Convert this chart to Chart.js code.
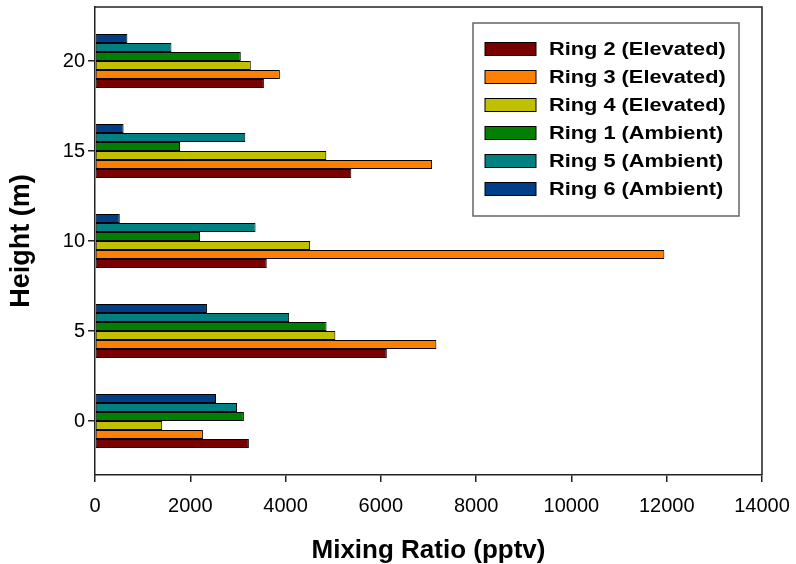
<!DOCTYPE html>
<html><head><meta charset="utf-8">
<script src="https://cdn.jsdelivr.net/npm/chart.js@4/dist/chart.umd.min.js"></script>
<style>html,body{margin:0;padding:0;background:#fff}#wrap{width:796px;height:564px}</style>
</head><body><div id="wrap"><canvas id="c" width="796" height="564"></canvas></div>
<script>
// Heights (m) of each bar group
const heights = [0, 5, 10, 15, 20];
// Series (top-to-bottom within each group)
const seriesLabels = ['Ring 6 (Ambient)', 'Ring 5 (Ambient)', 'Ring 1 (Ambient)', 'Ring 4 (Elevated)', 'Ring 3 (Elevated)', 'Ring 2 (Elevated)'];
const ring6 = [2540, 2350, 520, 600, 680];
const ring5 = [2980, 4075, 3370, 3155, 1605];
const ring1 = [3125, 4860, 2205, 1785, 3060];
const ring4 = [1410, 5045, 4515, 4855, 3270];
const ring3 = [2265, 7165, 11950, 7075, 3880];
const ring2 = [3230, 6125, 3605, 5380, 3545];
const seriesColors = ['#003F87', '#008080', '#008000', '#C0C000', '#FF8000', '#7A0000'];
const xTickValues = [0, 2000, 4000, 6000, 8000, 10000, 12000, 14000];
const yTickValues = [0, 5, 10, 15, 20];

const FONT = 'Liberation Sans, Arial, sans-serif';
const seriesValues = [ring6, ring5, ring1, ring4, ring3, ring2];

const datasets = seriesValues.map((vals, i) => ({
  label: seriesLabels[i],
  data: heights.map((h, j) => ({ x: vals[j], y: h })),
  backgroundColor: seriesColors[i],
  borderColor: '#000',
  borderWidth: 1,
  borderSkipped: false,
  categoryPercentage: 0.6,
  barPercentage: 1.0
}));

const framePlugin = {
  id: 'frame',
  afterDraw(chart) {
    const a = chart.chartArea, ctx = chart.ctx;
    ctx.save();
    ctx.strokeStyle = '#222';
    ctx.lineWidth = 1.5;
    ctx.beginPath();
    ctx.moveTo(a.left, a.top); ctx.lineTo(a.right, a.top); ctx.lineTo(a.right, a.bottom);
    ctx.stroke();
    ctx.restore();
  }
};

const legendPlugin = {
  id: 'boxLegend',
  afterDraw(chart) {
    const a = chart.chartArea, ctx = chart.ctx;
    const bx = a.right - 289, by = a.top + 16, bw = 266, bh = 193;
    ctx.save();
    ctx.fillStyle = '#fff';
    ctx.fillRect(bx, by, bw, bh);
    ctx.strokeStyle = '#666';
    ctx.lineWidth = 1.5;
    ctx.strokeRect(bx, by, bw, bh);
    const ds = chart.data.datasets.slice().reverse();
    ds.forEach((d, i) => {
      const cy = by + 26 + i * 28;
      ctx.fillStyle = d.backgroundColor;
      ctx.fillRect(bx + 12, cy - 6.5, 51, 13);
      ctx.strokeStyle = '#000';
      ctx.lineWidth = 1;
      ctx.strokeRect(bx + 12, cy - 6.5, 51, 13);
      ctx.save();
      ctx.translate(bx + 76, cy + 1);
      ctx.scale(1.21, 1);
      ctx.fillStyle = '#000';
      ctx.font = 'bold 18px ' + FONT;
      ctx.textBaseline = 'middle';
      ctx.textAlign = 'left';
      ctx.fillText(d.label, 0, 0);
      ctx.restore();
    });
    ctx.restore();
  }
};

new Chart(document.getElementById('c'), {
  type: 'bar',
  data: { datasets },
  plugins: [framePlugin, legendPlugin],
  options: {
    indexAxis: 'y',
    responsive: false,
    devicePixelRatio: 1,
    animation: false,
    layout: { padding: { top: 7, right: 34, left: 0, bottom: 0 } },
    plugins: { legend: { display: false }, tooltip: { enabled: false } },
    scales: {
      x: {
        type: 'linear', min: 0, max: 14000,
        afterBuildTicks(s) { s.ticks = xTickValues.map(v => ({ value: v })); },
        ticks: { color: '#000', font: { family: FONT, size: 20 }, padding: 12, maxRotation: 0, callback: v => String(v) },
        grid: { drawOnChartArea: false, drawTicks: true, tickLength: 7, color: '#222', lineWidth: 1.5 },
        border: { display: true, color: '#222', width: 1.5 },
        title: { display: true, text: 'Mixing Ratio (pptv)', color: '#000', font: { family: FONT, size: 26, weight: 'bold', lineHeight: 1 }, padding: { top: 0, bottom: 0 } },
        afterFit(s) { s.height = 89; s.paddingLeft = 0; s.paddingRight = 0; }
      },
      y: {
        type: 'linear', min: -3, max: 23, offset: false,
        afterBuildTicks(s) { s.ticks = yTickValues.map(v => ({ value: v })); },
        ticks: { color: '#000', font: { family: FONT, size: 20 }, padding: 3, callback: v => String(v) },
        grid: { offset: false, drawOnChartArea: false, drawTicks: true, tickLength: 7, color: '#222', lineWidth: 1.5 },
        border: { display: true, color: '#222', width: 1.5 },
        title: { display: true, text: 'Height (m)', color: '#000', font: { family: FONT, size: 27, weight: 'bold', lineHeight: 1 }, padding: { top: 8, bottom: 0 } },
        afterFit(s) { s.width = 95; s.paddingTop = 0; s.paddingBottom = 0; }
      }
    }
  }
});
</script></body></html>
